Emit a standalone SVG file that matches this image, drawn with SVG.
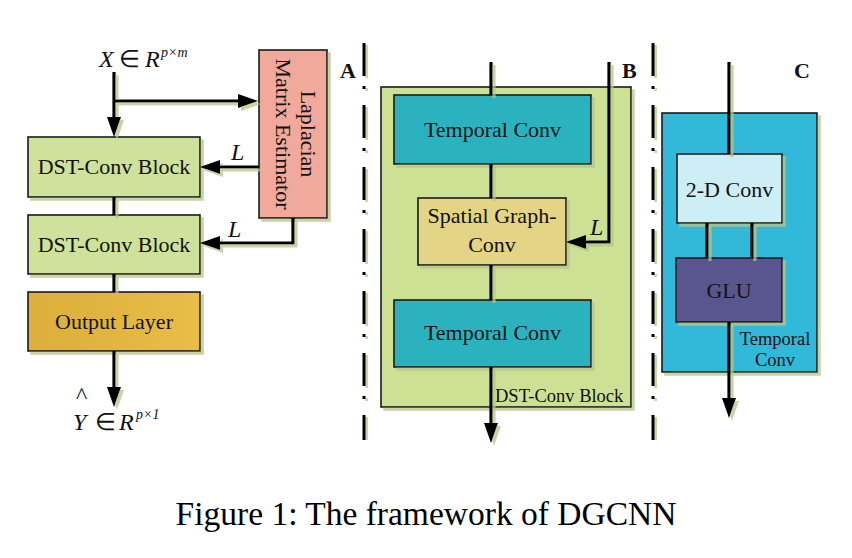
<svg xmlns="http://www.w3.org/2000/svg" width="852" height="558" viewBox="0 0 852 558">
<style>
  .box { stroke: #1a1a1a; stroke-width: 1.6; }
  .t { font-family: "Liberation Serif", "Times New Roman", serif; font-size: 22px; fill: #111; text-anchor: middle; }
  .ts { font-family: "Liberation Serif", "Times New Roman", serif; font-size: 18.5px; fill: #111; }
  .lab { font-family: "Liberation Serif", "Times New Roman", serif; font-size: 22px; font-weight: bold; fill: #111; }
  .m { font-family: "Liberation Serif", "Times New Roman", serif; font-size: 24px; fill: #111; }
  .it { font-style: italic; }
  .ln { fill: none; stroke: #000; stroke-width: 3.2; }
  .div { fill: none; stroke: #000; stroke-width: 3; stroke-dasharray: 33 10 3 16; }
  .divs { fill: none; stroke: #cdd6a6; stroke-width: 3; stroke-dasharray: 33 10 3 16; }
  .cap { font-family: "Liberation Serif", "Times New Roman", serif; font-size: 33.5px; fill: #000; text-anchor: middle; }
</style>
<defs>
  <marker id="ah" markerUnits="userSpaceOnUse" markerWidth="22" markerHeight="16" refX="2" refY="8" orient="auto">
    <path d="M0,1 L20,8 L0,15 Z" fill="#000"/>
  </marker>
  <filter id="sh" x="-10%" y="-10%" width="130%" height="130%">
    <feDropShadow dx="3" dy="3" stdDeviation="0.6" flood-color="#b8c48a" flood-opacity="0.75"/>
  </filter>
  <linearGradient id="gold" x1="0" y1="0" x2="1" y2="0">
    <stop offset="0" stop-color="#dcae3a"/>
    <stop offset="1" stop-color="#e8bd48"/>
  </linearGradient>
</defs>
<rect width="852" height="558" fill="#fff"/>

<!-- dividers -->
<g id="dividers">
  <line class="divs" x1="366.5" y1="45" x2="366.5" y2="440"/>
  <line class="div" x1="364" y1="43" x2="364" y2="440"/>
  <line class="divs" x1="655.5" y1="45" x2="655.5" y2="440"/>
  <line class="div" x1="653" y1="43" x2="653" y2="440"/>
</g>

<!-- Panel A nodes -->
<g id="laplacian" filter="url(#sh)">
  <rect class="box" x="259" y="50" width="68" height="168" fill="#f1a99c"/>
</g>
<text class="t" transform="translate(301,134) rotate(90)">Laplacian</text>
<text class="t" transform="translate(276,134) rotate(90)">Matrix Estimator</text>

<g id="dst1" filter="url(#sh)">
  <rect class="box" x="28" y="137" width="172" height="60" fill="#cfe29b"/>
</g>
<text class="t" x="114" y="174">DST-Conv Block</text>

<g id="dst2" filter="url(#sh)">
  <rect class="box" x="28" y="215" width="172" height="59" fill="#cfe29b"/>
</g>
<text class="t" x="114" y="252">DST-Conv Block</text>

<g id="output" filter="url(#sh)">
  <rect class="box" x="28" y="292" width="172" height="59" fill="url(#gold)"/>
</g>
<text class="t" x="114" y="329">Output Layer</text>

<!-- Panel B nodes -->
<g id="dstblock" filter="url(#sh)">
  <rect class="box" x="381" y="87" width="250" height="320" fill="#cde195"/>
</g>
<text class="ts" x="495" y="402">DST-Conv Block</text>

<g id="tconv1" filter="url(#sh)">
  <rect class="box" x="394" y="95" width="197" height="69" fill="#2ab3bf"/>
</g>
<text class="t" x="492.5" y="137">Temporal Conv</text>

<g id="sgconv" filter="url(#sh)">
  <rect class="box" x="418" y="198" width="148" height="67" fill="#e4d586"/>
</g>
<text class="t" x="492" y="223">Spatial Graph-</text>
<text class="t" x="492" y="252">Conv</text>

<g id="tconv2" filter="url(#sh)">
  <rect class="box" x="394" y="300" width="197" height="67" fill="#2ab3bf"/>
</g>
<text class="t" x="492.5" y="340">Temporal Conv</text>

<!-- Panel C nodes -->
<g id="tconvC" filter="url(#sh)">
  <rect class="box" x="662" y="113" width="155" height="259" fill="#32b9d9"/>
</g>
<text class="ts" x="775" y="345" text-anchor="middle">Temporal</text>
<text class="ts" x="775" y="366" text-anchor="middle">Conv</text>

<g id="conv2d" filter="url(#sh)">
  <rect class="box" x="677" y="154" width="105" height="69" fill="#cdeef5"/>
</g>
<text class="t" x="729.5" y="197">2-D Conv</text>

<g id="glu" filter="url(#sh)">
  <rect class="box" x="676" y="258" width="106" height="64" fill="#58548f"/>
</g>
<text class="t" x="729" y="298">GLU</text>

<!-- connectors -->
<g id="connectors" filter="url(#sh)">
  <!-- Panel A -->
  <path class="ln" d="M114,72 V119" marker-end="url(#ah)"/>
  <path class="ln" d="M114,101 H240" marker-end="url(#ah)"/>
  <path class="ln" d="M259,167 H218" marker-end="url(#ah)"/>
  <path class="ln" d="M114,197 V215"/>
  <path class="ln" d="M293,218 V243 H218" marker-end="url(#ah)"/>
  <path class="ln" d="M114,274 V292"/>
  <path class="ln" d="M114,351 V389" marker-end="url(#ah)"/>
  <!-- Panel B -->
  <path class="ln" d="M491,62 V95"/>
  <path class="ln" d="M491,164 V198"/>
  <path class="ln" d="M609,62 V242 H584" marker-end="url(#ah)"/>
  <path class="ln" d="M491,265 V300"/>
  <path class="ln" d="M491,367 V425" marker-end="url(#ah)"/>
  <!-- Panel C -->
  <path class="ln" d="M729,62 V154"/>
  <path class="ln" d="M707,223 V258"/>
  <path class="ln" d="M752,223 V258"/>
  <path class="ln" d="M729,322 V400" marker-end="url(#ah)"/>
</g>

<!-- labels -->
<text class="m it" x="231" y="160" font-size="22">L</text>
<text class="m it" x="228" y="237" font-size="22">L</text>
<text class="m it" x="590" y="235" font-size="22">L</text>

<text class="lab" x="340" y="78">A</text>
<text class="lab" x="622" y="78">B</text>
<text class="lab" x="794" y="78">C</text>

<text class="m" y="67"><tspan class="it" x="99">X</tspan><tspan x="119">∈</tspan><tspan class="it" x="145">R</tspan><tspan class="it" x="161" y="57" font-size="14">p×m</tspan></text>

<text class="m" y="430"><tspan class="it" x="73">Y</tspan><tspan x="95">∈</tspan><tspan class="it" x="119">R</tspan><tspan class="it" x="136" y="419" font-size="14">p×1</tspan></text>
<text class="m" x="76" y="403" font-size="15">^</text>

<text class="cap" x="426" y="525">Figure 1: The framework of DGCNN</text>
</svg>
